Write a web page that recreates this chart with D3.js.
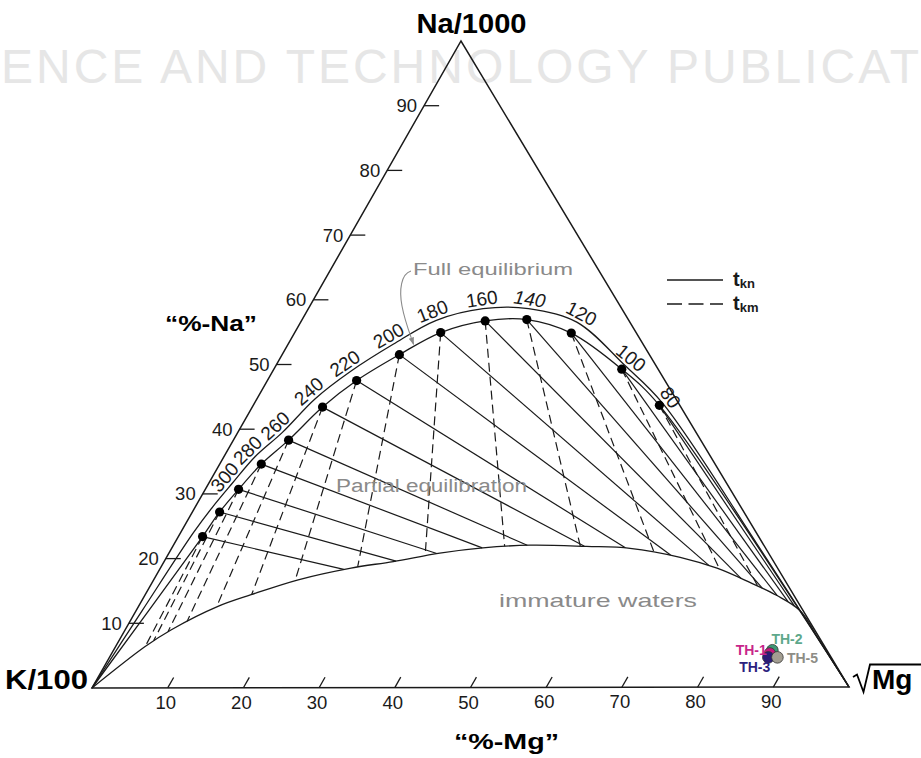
<!DOCTYPE html>
<html>
<head>
<meta charset="utf-8">
<script src="https://cdn.jsdelivr.net/npm/d3@7/dist/d3.min.js"></script>
<style>
html,body{margin:0;padding:0;background:#fff;}
svg{display:block;}
</style>
</head>
<body>
<svg id="chart" width="921" height="758"></svg>
<script>
// ---------------- DATA ----------------
// Full-equilibrium points (temperature in °C, "%-Na", "%-Mg")
const temperatures = [340, 320, 300, 280, 260, 240, 220, 200, 180, 160, 140, 120, 100, 80];
const eqNa = [23.4, 27.2, 30.7, 34.6, 38.3, 43.4, 47.5, 51.5, 54.9, 56.7, 56.9, 54.8, 49.2, 43.6];
const eqMg = [3.2, 3.6, 4.4, 5.5, 7.3, 9.3, 11.8, 15.5, 19.3, 24.3, 29.7, 36.6, 46.0, 53.7];
const labelledTemps = [300, 280, 260, 240, 220, 200, 180, 160, 140, 120, 100, 80];

// Outer (label) curve
const upperNa = [0, 12.0, 24.0, 28.0, 31.6, 35.7, 39.5, 44.7, 48.9, 53.1, 56.8, 58.6, 58.6, 56.5, 49.8, 43.9, 22.1, 0];
const upperMg = [0, 0.8, 1.7, 2.3, 3.1, 4.1, 5.9, 7.7, 10.3, 13.9, 17.8, 23.1, 29.1, 36.5, 46.1, 54.0, 77.1, 100];

// Immature-waters boundary
const immNa = [0, 6.4, 9.0, 12.6, 14.4, 16.7, 18.5, 19.5, 20.8, 21.6, 22.0, 21.8, 21.5, 20.1, 18.4, 16.2, 14.2, 11.8, 7.4, 3.7, 0];
const immMg = [0, 3.9, 6.1, 10.5, 14.0, 19.1, 25.2, 30.3, 35.8, 41.1, 47.2, 54.7, 60.6, 67.9, 73.6, 79.0, 83.5, 87.8, 92.4, 96.2, 100];

// Axis ticks
const naTicks = [10, 20, 30, 40, 50, 60, 70, 80, 90];
const mgTicks = [10, 20, 30, 40, 50, 60, 70, 80, 90];

// Samples
const sampleNames = ["TH-2", "TH-1", "TH-3", "TH-5"];
const sampleNa = [5.7, 5.2, 4.6, 4.6];
const sampleMg = [87.1, 87.0, 87.1, 88.3];

// ---------------- STYLE / LAYOUT ----------------
const FONT = "'Liberation Sans', Arial, Helvetica, sans-serif";
const INK = "#1a1a1a";
const GREY = "#8a8a8a";
const sampleFill = {"TH-2": "#3e9674", "TH-1": "#c4177c", "TH-3": "#2b1b76", "TH-5": "#a39e92"};
const sampleText = {"TH-2": "#5ea88b", "TH-1": "#c8268a", "TH-3": "#2c1f7e", "TH-5": "#8d8d86"};
const sampleLabelPos = {"TH-2": {dx: -1, dy: -11, anchor: "start"},
                        "TH-1": {dx: -3, dy: -4, anchor: "end"},
                        "TH-3": {dx: 2, dy: 10, anchor: "end"},
                        "TH-5": {dx: 9.5, dy: 1, anchor: "start"}};

const svg = d3.select("#chart");

// Ternary mapping built from linear scales (K/100 bottom-left, sqrt(Mg) bottom-right, Na/1000 top)
const VK = [92, 688], VM = [849, 687], VN = [461, 41];
const mgX = d3.scaleLinear().domain([0, 100]).range([0, VM[0] - VK[0]]);
const mgY = d3.scaleLinear().domain([0, 100]).range([0, VM[1] - VK[1]]);
const naX = d3.scaleLinear().domain([0, 100]).range([0, VN[0] - VK[0]]);
const naY = d3.scaleLinear().domain([0, 100]).range([0, VN[1] - VK[1]]);
function P(na, mg) { return [VK[0] + mgX(mg) + naX(na), VK[1] + mgY(mg) + naY(na)]; }

const smooth = d3.line().curve(d3.curveCatmullRom.alpha(0.5));

// ---------------- watermark (visible part only) ----------------
svg.append("text")
  .attr("x", 1).attr("y", 83)
  .attr("font-family", FONT).attr("font-size", 48)
  .attr("textLength", 918).attr("lengthAdjust", "spacing")
  .attr("fill", "#e6e6e6")
  .text("ENCE AND TECHNOLOGY PUBLICAT");

// ---------------- triangle ----------------
const pK = P(0, 0), pM = P(0, 100), pN = P(100, 0);
svg.append("path")
  .attr("d", "M" + pK + "L" + pM + "L" + pN + "Z")
  .attr("fill", "none").attr("stroke", INK).attr("stroke-width", 1.5)
  .attr("stroke-linejoin", "miter");

// left (%-Na) ticks
const gNa = svg.append("g");
naTicks.forEach(v => {
  const p = P(v, 0);
  gNa.append("line").attr("x1", p[0]).attr("y1", p[1]).attr("x2", p[0] + 15).attr("y2", p[1])
    .attr("stroke", INK).attr("stroke-width", 1.3);
  gNa.append("text").attr("x", p[0] - 7).attr("y", p[1] + 6.5)
    .attr("text-anchor", "end").attr("font-family", FONT).attr("font-size", 18.5).attr("fill", INK)
    .text(v);
});

// bottom (%-Mg) ticks, slanted parallel to the K–Na side
const edgeLen = Math.hypot(pN[0] - pK[0], pN[1] - pK[1]);
const dirKN = [(pN[0] - pK[0]) / edgeLen, (pN[1] - pK[1]) / edgeLen];
const gMg = svg.append("g");
mgTicks.forEach(v => {
  const p = P(0, v);
  gMg.append("line").attr("x1", p[0]).attr("y1", p[1])
    .attr("x2", p[0] + dirKN[0] * 12).attr("y2", p[1] + dirKN[1] * 12)
    .attr("stroke", INK).attr("stroke-width", 1.3);
  gMg.append("text").attr("x", p[0] - 2).attr("y", p[1] + 21)
    .attr("text-anchor", "middle").attr("font-family", FONT).attr("font-size", 18.5).attr("fill", INK)
    .text(v);
});

// ---------------- curves ----------------
const eqPts = [pK].concat(eqNa.map((n, i) => P(n, eqMg[i]))).concat([pM]);
const upPts = upperNa.map((n, i) => P(n, upperMg[i]));
const imPts = immNa.map((n, i) => P(n, immMg[i]));

const curveG = svg.append("g").attr("fill", "none").attr("stroke", INK).attr("stroke-width", 1.3);
const eqPath = curveG.append("path").attr("d", smooth(eqPts));
const upPath = curveG.append("path").attr("d", smooth(upPts));
const imPath = curveG.append("path").attr("d", smooth(imPts));

function sample(node, n) {
  const L = node.getTotalLength(), out = [];
  for (let i = 0; i <= n; i++) { const q = node.getPointAtLength(L * i / n); out.push([q.x, q.y]); }
  return out;
}
const imPoly = sample(imPath.node(), 800);
const upPoly = sample(upPath.node(), 800);
const eqPoly = sample(eqPath.node(), 800);

function cross(a, b) { return a[0] * b[1] - a[1] * b[0]; }
function rayHit(o, d, poly, tmin) {
  let best = Infinity;
  for (let i = 0; i < poly.length - 1; i++) {
    const a = poly[i], b = poly[i + 1];
    const e = [b[0] - a[0], b[1] - a[1]];
    const den = cross(d, e);
    if (Math.abs(den) < 1e-12) continue;
    const w = [a[0] - o[0], a[1] - o[1]];
    const t = cross(w, e) / den, s = cross(w, d) / den;
    if (s >= 0 && s <= 1 && t > tmin && t < best) best = t;
  }
  return best;
}

const dots = temperatures.map((t, i) => ({t, p: P(eqNa[i], eqMg[i]), i}));

// t_kn (solid, towards sqrt(Mg) corner) and t_km (dashed, away from Na corner)
const isoG = svg.append("g").attr("fill", "none").attr("stroke", INK).attr("stroke-width", 1.2);
dots.forEach(d => {
  const p = d.p;
  let v = [pM[0] - p[0], pM[1] - p[1]];
  let L = Math.hypot(v[0], v[1]);
  let u = [v[0] / L, v[1] / L];
  let t = rayHit(p, u, imPoly, 2);
  if (!(t < L)) t = L;
  isoG.append("line").attr("x1", p[0]).attr("y1", p[1])
    .attr("x2", p[0] + u[0] * t).attr("y2", p[1] + u[1] * t);
  v = [p[0] - pN[0], p[1] - pN[1]];
  L = Math.hypot(v[0], v[1]);
  u = [v[0] / L, v[1] / L];
  t = rayHit(p, u, imPoly, 2);
  if (!isFinite(t)) t = 0;
  isoG.append("line").attr("x1", p[0]).attr("y1", p[1])
    .attr("x2", p[0] + u[0] * t).attr("y2", p[1] + u[1] * t)
    .attr("stroke-dasharray", "9,5");
});

// dots
svg.append("g").selectAll("circle").data(dots).join("circle")
  .attr("cx", d => d.p[0]).attr("cy", d => d.p[1]).attr("r", 4.6).attr("fill", "#000");

// temperature labels outside the outer curve
const labG = svg.append("g").attr("font-family", FONT).attr("font-size", 19).attr("fill", INK);
dots.forEach(d => {
  if (!labelledTemps.includes(d.t)) return;
  const prev = eqPts[d.i], next = eqPts[d.i + 2];
  let tg = [next[0] - prev[0], next[1] - prev[1]];
  const L = Math.hypot(tg[0], tg[1]);
  tg = [tg[0] / L, tg[1] / L];
  const nrm = [tg[1], -tg[0]];
  let tu = rayHit(d.p, nrm, upPoly, 0.5);
  if (!isFinite(tu)) tu = 4;
  const off = tu + 10;
  const cx = d.p[0] + nrm[0] * off, cy = d.p[1] + nrm[1] * off;
  const ang = Math.atan2(tg[1], tg[0]) * 180 / Math.PI;
  labG.append("text")
    .attr("transform", `translate(${cx},${cy}) rotate(${ang})`)
    .attr("text-anchor", "middle").attr("dy", "0.36em")
    .attr("font-style", d.t === 140 ? "italic" : "normal")
    .text(d.t);
});

// ---------------- region labels ----------------
svg.append("text").attr("x", 336).attr("y", 492)
  .attr("font-family", FONT).attr("font-size", 18).attr("fill", GREY)
  .attr("textLength", 191).attr("lengthAdjust", "spacingAndGlyphs")
  .text("Partial equilibration");
svg.append("text").attr("x", 499).attr("y", 607)
  .attr("font-family", FONT).attr("font-size", 19).attr("fill", GREY)
  .attr("textLength", 198).attr("lengthAdjust", "spacingAndGlyphs")
  .text("immature waters");
svg.append("text").attr("x", 413).attr("y", 275)
  .attr("font-family", FONT).attr("font-size", 16.5).attr("fill", GREY)
  .attr("textLength", 160).attr("lengthAdjust", "spacingAndGlyphs")
  .text("Full equilibrium");

// arrow to the full-equilibrium curve
let tip = eqPoly[0];
eqPoly.forEach(q => { if (Math.abs(q[0] - 414) < Math.abs(tip[0] - 414) && q[1] < 400) tip = q; });
svg.append("defs").append("marker").attr("id", "ah")
  .attr("viewBox", "0 0 10 10").attr("refX", 9).attr("refY", 5)
  .attr("markerWidth", 7).attr("markerHeight", 7).attr("orient", "auto")
  .append("path").attr("d", "M0,1.5L10,5L0,8.5Z").attr("fill", GREY);
svg.append("path")
  .attr("d", `M411,271 C401,274 399,290 402,306 S410,334 ${tip[0]},${tip[1] - 2}`)
  .attr("fill", "none").attr("stroke", GREY).attr("stroke-width", 1.1)
  .attr("marker-end", "url(#ah)");

// ---------------- axis titles ----------------
svg.append("text").attr("x", 471.5).attr("y", 33).attr("text-anchor", "middle")
  .attr("font-family", FONT).attr("font-weight", "bold").attr("font-size", 27).attr("fill", "#000")
  .attr("textLength", 110).attr("lengthAdjust", "spacingAndGlyphs")
  .text("Na/1000");
svg.append("text").attr("x", 5).attr("y", 689)
  .attr("font-family", FONT).attr("font-weight", "bold").attr("font-size", 27).attr("fill", "#000")
  .attr("textLength", 83).attr("lengthAdjust", "spacingAndGlyphs")
  .text("K/100");
// square-root sign drawn as a path, with "Mg" under the bar
svg.append("path")
  .attr("d", "M853,677 L857,674.5 L863.5,692 L870,664.5 L921,664.5")
  .attr("fill", "none").attr("stroke", "#000").attr("stroke-width", 1.8)
  .attr("stroke-linejoin", "miter");
svg.append("text").attr("x", 872).attr("y", 689)
  .attr("font-family", FONT).attr("font-weight", "bold").attr("font-size", 28).attr("fill", "#000")
  .text("Mg");
svg.append("text").attr("x", 165).attr("y", 331)
  .attr("font-family", FONT).attr("font-weight", "bold").attr("font-size", 22).attr("fill", "#000")
  .attr("textLength", 92).attr("lengthAdjust", "spacingAndGlyphs")
  .text("“%-Na”");
svg.append("text").attr("x", 454).attr("y", 749)
  .attr("font-family", FONT).attr("font-weight", "bold").attr("font-size", 22).attr("fill", "#000")
  .attr("textLength", 105).attr("lengthAdjust", "spacingAndGlyphs")
  .text("“%-Mg”");

// ---------------- legend ----------------
const lg = svg.append("g");
lg.append("line").attr("x1", 667).attr("y1", 280).attr("x2", 723).attr("y2", 280)
  .attr("stroke", INK).attr("stroke-width", 1.4);
lg.append("line").attr("x1", 667).attr("y1", 304).attr("x2", 723).attr("y2", 304)
  .attr("stroke", INK).attr("stroke-width", 1.4).attr("stroke-dasharray", "15,6.5");
[["kn", 286], ["km", 310]].forEach(([s, y]) => {
  const t = lg.append("text").attr("x", 733).attr("y", y)
    .attr("font-family", FONT).attr("font-weight", "bold").attr("font-size", 20).attr("fill", INK);
  t.append("tspan").text("t");
  t.append("tspan").attr("font-size", 13).attr("dy", 2).text(s);
});

// ---------------- samples ----------------
const samp = sampleNames.map((n, i) => ({n, p: P(sampleNa[i], sampleMg[i])}));
svg.append("g").selectAll("circle").data(samp).join("circle")
  .attr("cx", d => d.p[0]).attr("cy", d => d.p[1]).attr("r", 5.8)
  .attr("fill", d => sampleFill[d.n]).attr("stroke", "#333").attr("stroke-width", 0.8);
svg.append("g").selectAll("text").data(samp).join("text")
  .attr("x", d => d.p[0] + sampleLabelPos[d.n].dx)
  .attr("y", d => d.p[1] + sampleLabelPos[d.n].dy)
  .attr("dy", "0.36em")
  .attr("text-anchor", d => sampleLabelPos[d.n].anchor)
  .attr("font-family", FONT).attr("font-weight", "bold").attr("font-size", 14)
  .attr("fill", d => sampleText[d.n])
  .text(d => d.n);
</script>
</body>
</html>
